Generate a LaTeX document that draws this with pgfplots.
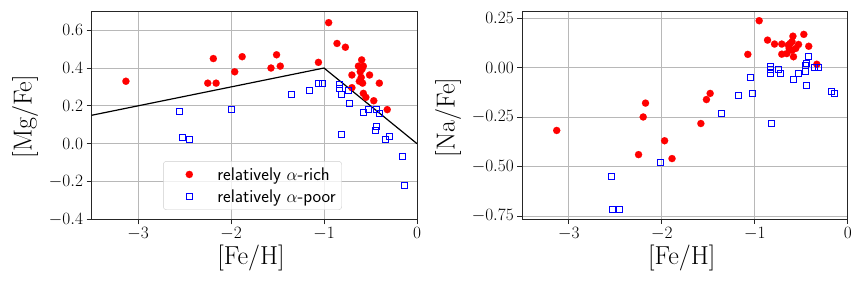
\documentclass[border=0pt]{standalone}
\usepackage{pgfplots}
\pgfplotsset{compat=1.18}
\pgfplotstableread{
x y
-3.13 0.33
-2.25 0.32
-2.19 0.45
-2.16 0.32
-1.96 0.38
-1.88 0.46
-1.57 0.40
-1.51 0.47
-1.47 0.41
-1.06 0.43
-0.95 0.64
-0.86 0.53
-0.77 0.51
-0.595 0.443
-0.63 0.41
-0.577 0.41
-0.70 0.363
-0.51 0.363
-0.60 0.35
-0.62 0.33
-0.585 0.32
-0.405 0.32
-0.70 0.296
-0.577 0.266
-0.55 0.245
-0.465 0.227
-0.32 0.18
-0.61 0.38
-0.59 0.395
}\mgrich
\pgfplotstableread{
x y
-2.55 0.17
-2.52 0.03
-2.45 0.02
-2.00 0.18
-1.35 0.26
-1.16 0.28
-1.06 0.32
-1.02 0.32
-0.83 0.315
-0.83 0.293
-0.81 0.26
-0.74 0.28
-0.73 0.21
-0.81 0.05
-0.58 0.163
-0.52 0.18
-0.44 0.18
-0.405 0.16
-0.44 0.09
-0.45 0.07
-0.34 0.02
-0.30 0.04
-0.158 -0.069
-0.136 -0.223
}\mgpoor
\pgfplotstableread{
x y
-3.13 -0.318
-2.25 -0.44
-2.20 -0.25
-2.175 -0.18
-1.97 -0.37
-1.89 -0.46
-1.58 -0.283
-1.52 -0.162
-1.48 -0.131
-1.075 0.066
-0.953 0.236
-0.863 0.138
-0.788 0.118
-0.71 0.118
-0.71 0.067
-0.59 0.158
-0.473 0.167
-0.42 0.107
-0.53 0.116
-0.333 0.016
-0.64 0.113
-0.60 0.087
-0.656 0.07
-0.584 0.054
-0.62 0.121
-0.56 0.096
-0.60 0.13
-0.63 0.095
}\narich
\pgfplotstableread{
x y
-2.01 -0.48
-2.54 -0.55
-2.53 -0.717
-2.46 -0.717
-1.355 -0.232
-1.17 -0.141
-1.03 -0.131
-1.05 -0.05
-0.817 -0.283
-0.83 0.005
-0.83 -0.008
-0.83 -0.03
-0.74 -0.008
-0.727 -0.03
-0.58 -0.06
-0.533 -0.03
-0.46 -0.022
-0.45 0.012
-0.44 0.02
-0.42 0.057
-0.44 -0.09
-0.36 0.0
-0.31 0.0
-0.172 -0.121
-0.14 -0.131
}\napoor
\pgfplotsset{
  myax/.style={
    scale only axis, width=325.5pt, height=208pt,
    xmin=-3.5, xmax=0, xtick={-3,-2,-1,0},
    grid=major, major grid style={color=black!28, line width=0.8pt},
    axis line style={line width=0.8pt, black!85},
    tick style={black!85, line width=0.8pt}, tick align=outside, major tick length=5pt,
    xtick pos=bottom, ytick pos=left,
    tick label style={font=\fontsize{17.5}{20}\selectfont},
    label style={font=\fontsize{26}{30}\selectfont},
    xlabel={[Fe/H]},
    xlabel style={at={(axis description cs:0.49,-0.187)}, anchor=center},
    x tick label style={/pgf/number format/.cd, fixed},
  },
  rich/.style={red, only marks, mark=*, mark size=3.6pt, mark options={draw=red, fill=red, line width=0.1pt}},
  poor/.style={blue, only marks, mark=square, mark size=3pt, mark options={draw=blue, fill=none, line width=1pt}},
}
\begin{document}
\begin{tikzpicture}[x=1pt,y=1pt]
\path[use as bounding box] (0,0) rectangle (864,288);
\begin{axis}[myax, at={(91.5pt,68.7pt)}, anchor=south west,
  ymin=-0.4, ymax=0.7, ytick={-0.4,-0.2,0,0.2,0.4,0.6},
  yticklabel style={/pgf/number format/.cd, fixed, fixed zerofill, precision=1},
  ylabel={[Mg/Fe]},
  ylabel style={at={(axis description cs:-0.204,0.494)}, anchor=center},
  legend style={at={(axis description cs:0.22,0.045)}, anchor=south west,
    font=\sffamily\fontsize{18.3}{21}\selectfont, draw=black!20, rounded corners=3pt,
    fill=white, fill opacity=0.8, text opacity=1, inner xsep=4pt, inner ysep=4pt,
    row sep=4pt},
  legend cell align=left,
  legend image code/.code={\path[draw=none] (0pt,0pt) -- (48pt,0pt); \path[#1, draw=none, opacity=1, fill opacity=1, draw opacity=1] plot[only marks] coordinates {(22pt,0pt)};},
]
\addplot[rich] table {\mgrich};
\addlegendentry{relatively $\alpha$-rich}
\addplot[poor] table {\mgpoor};
\addlegendentry{relatively $\alpha$-poor}
\addplot[black, line width=1.2pt, forget plot] coordinates {(-3.5,0.15) (-1,0.4) (0,0)};
\end{axis}
\begin{axis}[myax, at={(522.3pt,69pt)}, anchor=south west,
  ymin=-0.765, ymax=0.285, ytick={-0.75,-0.5,-0.25,0,0.25},
  yticklabel style={/pgf/number format/.cd, fixed, fixed zerofill, precision=2},
  ylabel={[Na/Fe]},
  ylabel style={at={(axis description cs:-0.228,0.488)}, anchor=center},
]
\addplot[rich] table {\narich};
\addplot[poor] table {\napoor};
\end{axis}
\end{tikzpicture}
\end{document}
